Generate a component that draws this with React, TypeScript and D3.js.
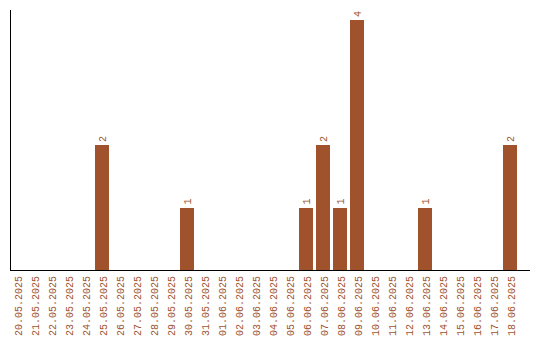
import React from "react";
import * as d3 from "d3";

const dates = [
  "20.05.2025", "21.05.2025", "22.05.2025", "23.05.2025", "24.05.2025",
  "25.05.2025", "26.05.2025", "27.05.2025", "28.05.2025", "29.05.2025",
  "30.05.2025", "31.05.2025", "01.06.2025", "02.06.2025", "03.06.2025",
  "04.06.2025", "05.06.2025", "06.06.2025", "07.06.2025", "08.06.2025",
  "09.06.2025", "10.06.2025", "11.06.2025", "12.06.2025", "13.06.2025",
  "14.06.2025", "15.06.2025", "16.06.2025", "17.06.2025", "18.06.2025",
];
const counts = [
  0, 0, 0, 0, 0,
  2, 0, 0, 0, 0,
  1, 0, 0, 0, 0,
  0, 0, 1, 2, 1,
  4, 0, 0, 0, 1,
  0, 0, 0, 0, 2,
];

const W = 540;
const H = 340;
const COLOR = "#A0522D";
const FONT = "'Liberation Mono', monospace";

export default function App() {
  const left = 10;
  const bottom = 270;
  const top = 10;
  const x = d3
    .scaleBand<string>()
    .domain(dates)
    .range([left, 517])
    .paddingInner(3 / 17)
    .paddingOuter(0)
    .align(0);
  const y = d3
    .scaleLinear()
    .domain([0, (d3.max(counts) as number) * 1.04])
    .range([bottom, top]);

  return (
    <svg
      width={W}
      height={H}
      style={{ position: "absolute", left: 0, top: 0, background: "#fff" }}
    >
      {dates.map((d, i) =>
        counts[i] > 0 ? (
          <rect
            key={"b" + d}
            x={x(d)}
            y={y(counts[i])}
            width={x.bandwidth()}
            height={bottom - y(counts[i])}
            fill={COLOR}
            shapeRendering="crispEdges"
          />
        ) : null
      )}
      {dates.map((d, i) =>
        counts[i] > 0 ? (
          <text
            key={"v" + d}
            transform={`translate(${(x(d) as number) + x.bandwidth() / 2 + 3.5},${y(counts[i]) - 3}) rotate(-90)`}
            fill={COLOR}
            fontFamily={FONT}
            fontSize={10}
            textAnchor="start"
          >
            {counts[i]}
          </text>
        ) : null
      )}
      {dates.map((d) => (
        <text
          key={"t" + d}
          transform={`translate(${(x(d) as number) + x.bandwidth() / 2 + 5},${bottom + 6}) rotate(-90)`}
          fill={COLOR}
          fontFamily={FONT}
          fontSize={10}
          textAnchor="end"
        >
          {d}
        </text>
      ))}
      <line x1={left + 0.5} x2={left + 0.5} y1={top} y2={bottom} stroke="#000" shapeRendering="crispEdges" />
      <line x1={left} x2={530} y1={bottom + 0.5} y2={bottom + 0.5} stroke="#000" shapeRendering="crispEdges" />
    </svg>
  );
}
